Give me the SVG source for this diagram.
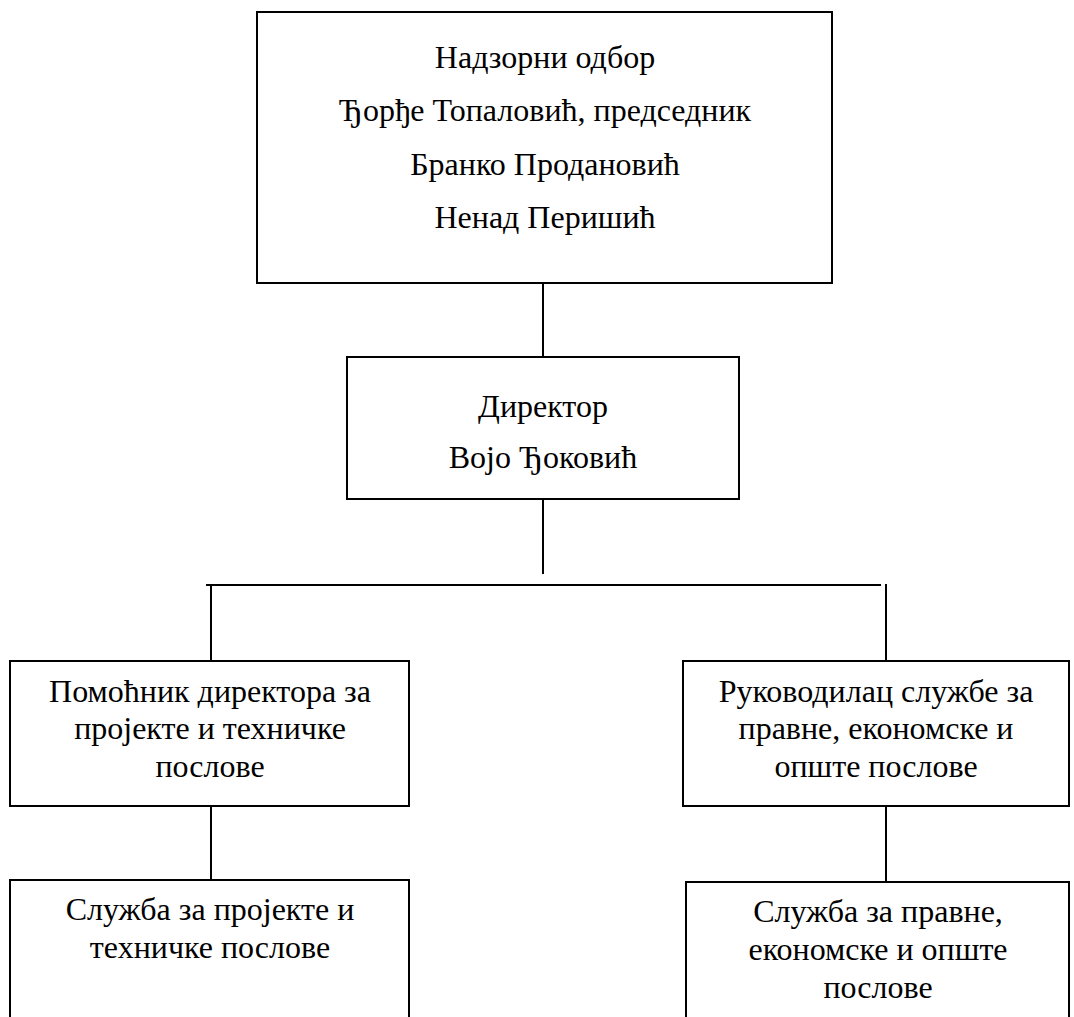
<svg xmlns="http://www.w3.org/2000/svg" width="1074" height="1017" viewBox="0 0 1074 1017">
<style>
.box{fill:#fff;stroke:#000;stroke-width:2}
.ln{stroke:#000;stroke-width:2;fill:none}
text{font-family:"Liberation Serif","Times New Roman",serif;font-size:32px;fill:#000;text-anchor:middle}
</style>
<rect width="1074" height="1017" fill="#fff"/>
<g id="connectors">
<line class="ln" x1="543" y1="283" x2="543" y2="356"/>
<line class="ln" x1="543" y1="499" x2="543" y2="574"/>
<line class="ln" x1="206" y1="585" x2="881" y2="585"/>
<line class="ln" x1="211" y1="585" x2="211" y2="661"/>
<line class="ln" x1="886" y1="584" x2="886" y2="661"/>
<line class="ln" x1="211" y1="806" x2="211" y2="880"/>
<line class="ln" x1="886" y1="806" x2="886" y2="882"/>
</g>
<g id="supervisory-board">
<rect class="box" x="257" y="12" width="575" height="271"/>
<text x="545" y="68">Надзорни одбор</text>
<text x="545" y="121">Ђорђе Топаловић, председник</text>
<text x="545" y="175">Бранко Продановић</text>
<text x="545" y="228">Ненад Перишић</text>
</g>
<g id="director">
<rect class="box" x="347" y="357" width="392" height="142"/>
<text x="543" y="417">Директор</text>
<text x="543" y="468">Војо Ђоковић</text>
</g>
<g id="assistant-director">
<rect class="box" x="10" y="661" width="399" height="145"/>
<text x="210" y="702">Помоћник директора за</text>
<text x="210" y="739">пројекте и техничке</text>
<text x="210" y="777">послове</text>
</g>
<g id="head-legal">
<rect class="box" x="683" y="661" width="386" height="145"/>
<text x="876" y="702">Руководилац службе за</text>
<text x="876" y="739">правне, економске и</text>
<text x="876" y="777">опште послове</text>
</g>
<g id="projects-service">
<rect class="box" x="10" y="880" width="399" height="150"/>
<text x="210" y="920">Служба за пројекте и</text>
<text x="210" y="958">техничке послове</text>
</g>
<g id="legal-service">
<rect class="box" x="686" y="882" width="383" height="150"/>
<text x="878" y="922">Служба за правне,</text>
<text x="878" y="960">економске и опште</text>
<text x="878" y="998">послове</text>
</g>
</svg>
